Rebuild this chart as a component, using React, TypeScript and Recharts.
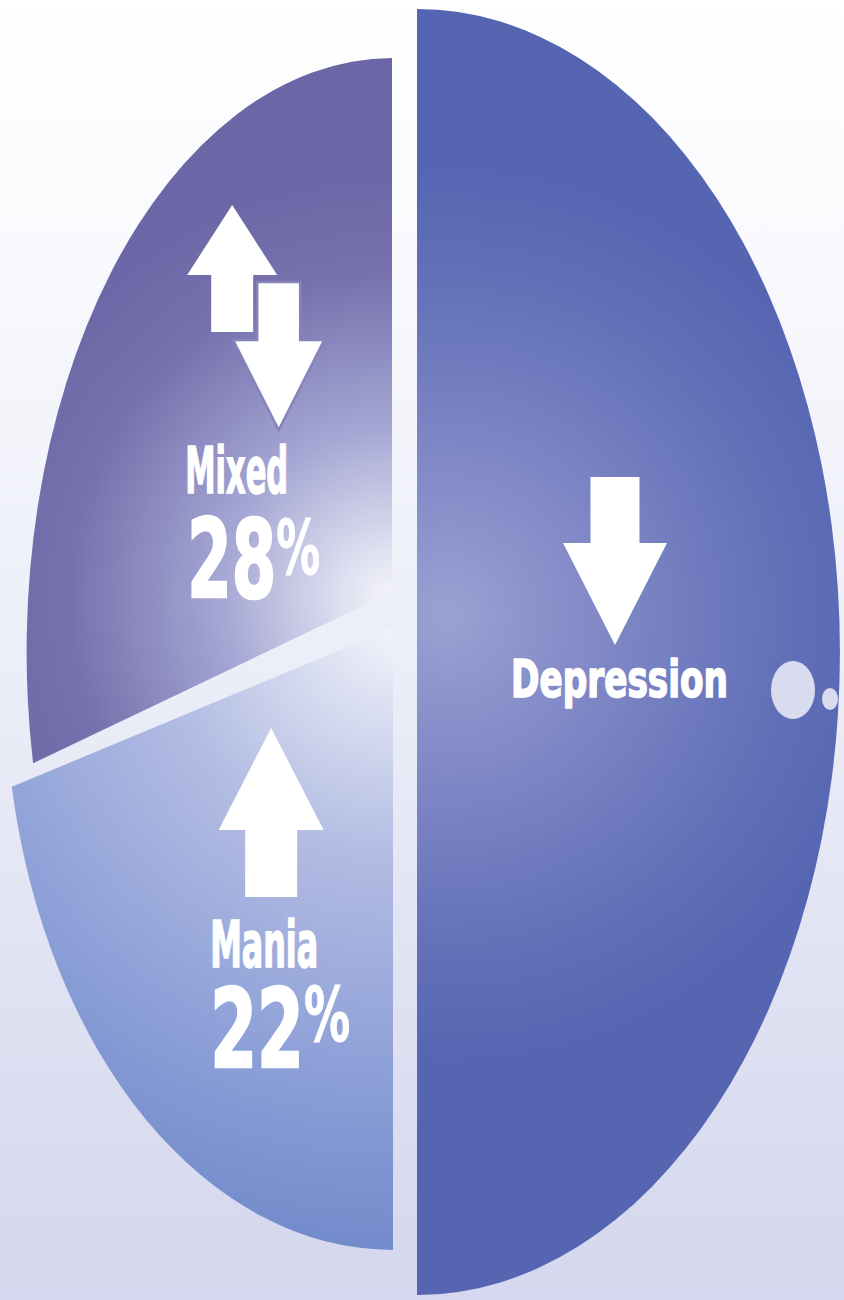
import React from 'react';
import { PieChart, Pie } from 'recharts';

// chart data
const categories = ['Depression', 'Mixed', 'Mania'];
const shares = [50, 28, 22];
const showPercent = [false, true, true];

const data = categories.map((name, i) => ({ name, value: shares[i], showPercent: showPercent[i] }));

const W = 844;
const H = 1300;
const RAD = Math.PI / 180;
const ASPECT = 1.52; // pie is drawn as a tall ellipse
const FONT = "'DejaVu Sans Condensed', 'DejaVu Sans', sans-serif";

// per-slice look: ellipse offset / radii scale, hub shift and glow gradient
const SLICE: Record<string, any> = {
  Depression: {
    dx: 12, dy: 0, rx: 1.007, ry: 1.531, hubDy: 0,
    glow: { gx: 30, gy: -37, r: 450 },
    stops: [[0, '#9aa1d3'], [0.35, '#8088c6'], [0.75, '#6270b8'], [1, '#5565b2']],
  },
  Mixed: {
    dx: -13, dy: 0, rx: 0.87, ry: 1.414, hubDy: -60,
    glow: { gx: 0, gy: 6, r: 430 },
    stops: [[0, '#f5f5fb'], [0.12, '#dedff0'], [0.4, '#a4a6d3'], [0.75, '#7772ae'], [1, '#6b66a5']],
  },
  Mania: {
    dx: -12, dy: 28, rx: 0.924, ry: 1.357, hubDy: -52,
    glow: { gx: 0, gy: 0, r: 640 },
    stops: [[0, '#f3f4fb'], [0.1, '#dfe3f3'], [0.35, '#b3bde3'], [0.7, '#8c9fd7'], [1, '#7089ca']],
  },
};

// label decorations, offsets from the slice's label anchor
const LAYOUT: Record<string, any> = {
  Depression: {
    arrows: [{ dx: 0, tip: -7, dir: 1, hh: 52, hl: 102, sh: 24.5, sl: 66 }],
    name: { dx: -104, dy: 45, size: 51, len: 217 },
    dots: [{ dx: 178, dy: 38, rx: 22, ry: 29 }, { dx: 215, dy: 47, rx: 8, ry: 11 }],
  },
  Mixed: {
    arrows: [
      { dx: -11, tip: -243.5, dir: -1, hh: 45, hl: 70, sh: 21, sl: 57 },
      { dx: 35.5, tip: -18.5, dir: 1, hh: 45.5, hl: 90, sh: 21.5, sl: 58, outline: '#8683ba' },
    ],
    name: { dx: -58, dy: 44.5, size: 64, len: 103 },
    pct: { dx: -56, dy: 148.5, size: 108, len: 133, ssize: 74, rise: -23 },
  },
  Mania: {
    arrows: [{ dx: 0, tip: -170, dir: -1, hh: 52.5, hl: 102, sh: 26, sl: 67 }],
    name: { dx: -61, dy: 69, size: 64, len: 108 },
    pct: { dx: -61, dy: 169, size: 108, len: 140, ssize: 74, rise: -26 },
  },
};

const EllipseSector = (props: any) => {
  const { cx, cy, outerRadius, startAngle, endAngle, payload, name } = props;
  const key = payload?.name ?? name;
  const s = SLICE[key];
  const ex = cx + s.dx;
  const ey = cy + s.dy;
  const rx = outerRadius * s.rx;
  const ry = outerRadius * s.ry;
  const a0 = Math.min(startAngle, endAngle);
  const a1 = Math.max(startAngle, endAngle);
  const pt = (a: number) => [ex + rx * Math.cos(a * RAD), ey - ry * Math.sin(a * RAD)];
  const [x1, y1] = pt(a0);
  const [x2, y2] = pt(a1);
  const large = a1 - a0 > 180 ? 1 : 0;
  const hubY = ey + s.hubDy;
  const d = `M${ex},${hubY} L${x1},${y1} A${rx},${ry} 0 ${large} 0 ${x2},${y2} Z`;
  const id = `glow-${key}`;
  return (
    <g>
      <defs>
        <radialGradient id={id} gradientUnits="userSpaceOnUse" cx={ex + s.glow.gx} cy={hubY + s.glow.gy} r={s.glow.r}>
          {s.stops.map(([o, c]: [number, string]) => (
            <stop key={o} offset={o} stopColor={c} />
          ))}
        </radialGradient>
      </defs>
      <path d={d} fill={`url(#${id})`} stroke="none" />
    </g>
  );
};

const arrowPoints = (x: number, t: number, a: any) => {
  const b = t - a.dir * a.hl;
  const e = b - a.dir * a.sl;
  return [
    [x, t], [x + a.hh, b], [x + a.sh, b], [x + a.sh, e],
    [x - a.sh, e], [x - a.sh, b], [x - a.hh, b],
  ].map((p) => p.join(',')).join(' ');
};

const SliceLabel = (props: any) => {
  const { cx, cy, midAngle, outerRadius, payload, name, value } = props;
  const key = payload?.name ?? name;
  const L = LAYOUT[key];
  if (!L) return null;
  const ax = cx + 0.5 * outerRadius * Math.cos(midAngle * RAD);
  const ay = cy - 0.5 * outerRadius * ASPECT * Math.sin(midAngle * RAD);
  const txt = { fill: '#ffffff', fontFamily: FONT, fontWeight: 700, stroke: '#ffffff' } as const;
  return (
    <g>
      {L.arrows.map((a: any, i: number) => (
        <polygon
          key={i}
          points={arrowPoints(ax + a.dx, ay + a.tip, a)}
          fill="#ffffff"
          stroke={a.outline ?? 'none'}
          strokeWidth={a.outline ? 2.5 : 0}
        />
      ))}
      <text
        x={ax + L.name.dx}
        y={ay + L.name.dy}
        fontSize={L.name.size}
        textLength={L.name.len}
        lengthAdjust="spacingAndGlyphs"
        strokeWidth={1.6}
        {...txt}
      >
        {key}
      </text>
      {payload?.showPercent && L.pct ? (
        <text
          x={ax + L.pct.dx}
          y={ay + L.pct.dy}
          fontSize={L.pct.size}
          textLength={L.pct.len}
          lengthAdjust="spacingAndGlyphs"
          strokeWidth={2.5}
          {...txt}
        >
          {value}
          <tspan fontSize={L.pct.ssize} dy={L.pct.rise} strokeWidth={1}>
            %
          </tspan>
        </text>
      ) : null}
      {(L.dots ?? []).map((d: any, i: number) => (
        <ellipse key={`d${i}`} cx={ax + d.dx} cy={ay + d.dy} rx={d.rx} ry={d.ry} fill="#d9dcef" />
      ))}
    </g>
  );
};

export default function App() {
  return (
    <div
      style={{
        position: 'absolute',
        left: 0,
        top: 0,
        width: W,
        height: H,
        background: 'linear-gradient(to bottom, #ffffff 0%, #fbfbfe 15%, #eceef8 50%, #d4d7ed 100%)',
      }}
    >
      <PieChart width={W} height={H} margin={{ top: 0, right: 0, bottom: 0, left: 0 }}>
        <Pie
          data={data}
          dataKey="value"
          nameKey="name"
          cx={405}
          cy={652}
          outerRadius={420}
          startAngle={-90}
          endAngle={270}
          stroke="none"
          shape={EllipseSector}
          activeShape={EllipseSector}
          inactiveShape={EllipseSector}
          label={SliceLabel}
          labelLine={false}
          isAnimationActive={false}
        />
      </PieChart>
    </div>
  );
}
